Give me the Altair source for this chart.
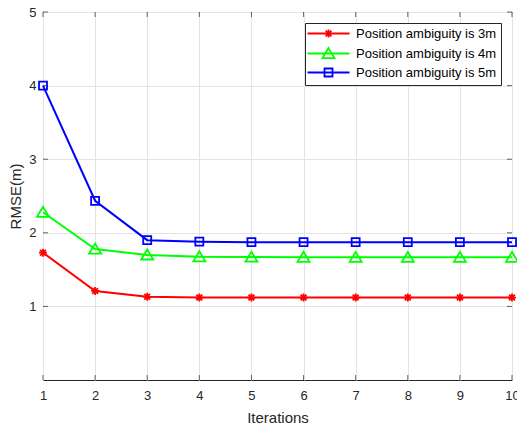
import altair as alt
import pandas as pd

iterations = [1, 2, 3, 4, 5, 6, 7, 8, 9, 10]
series_names = ["Position ambiguity is 3m", "Position ambiguity is 4m", "Position ambiguity is 5m"]
rmse_3m = [1.73, 1.21, 1.13, 1.12, 1.12, 1.12, 1.12, 1.12, 1.12, 1.12]
rmse_4m = [2.28, 1.78, 1.70, 1.675, 1.67, 1.668, 1.667, 1.667, 1.667, 1.667]
rmse_5m = [4.00, 2.435, 1.90, 1.88, 1.873, 1.872, 1.872, 1.872, 1.872, 1.872]
x_tick_values = [1, 2, 3, 4, 5, 6, 7, 8, 9, 10]
y_tick_values = [1, 2, 3, 4, 5]

colors = ["#FF0000", "#00FF00", "#0000FF"]
FONT = "Liberation Sans"
TXT = "#262626"

rows = []
for name, vals in zip(series_names, [rmse_3m, rmse_4m, rmse_5m]):
    for it, v in zip(iterations, vals):
        rows.append({"Iterations": it, "RMSE": v, "series": name})
df = pd.DataFrame(rows)

# marker paths (unit = 4px at size 64)
star = "M-1,0H1M0,-1V1M-0.72,-0.72L0.72,0.72M-0.72,0.72L0.72,-0.72"
tri = "M0,-1.35L1.5,1.15L-1.5,1.15Z"
sq = "M-1,-1H1V1H-1Z"
line_seg = "M-5.25,0H5.25"

x_scale = alt.Scale(domain=[1, 10], nice=False)
y_scale = alt.Scale(domain=[0, 5], nice=False)
color_scale = alt.Scale(domain=series_names, range=colors)

x_enc = alt.X("Iterations:Q", scale=x_scale,
              axis=alt.Axis(values=x_tick_values, title="Iterations", format="d"))
y_enc = alt.Y("RMSE:Q", scale=y_scale,
              axis=alt.Axis(values=y_tick_values, title="RMSE(m)", format="d"))

lines = alt.Chart(df).mark_line(strokeWidth=2).encode(
    x=x_enc, y=y_enc,
    color=alt.Color("series:N", scale=color_scale, legend=None),
)

points = alt.Chart(df).mark_point(filled=False, strokeWidth=1.8, size=64, opacity=1).encode(
    x="Iterations:Q", y="RMSE:Q",
    color=alt.Color("series:N", scale=color_scale, legend=None),
    shape=alt.Shape("series:N", scale=alt.Scale(domain=series_names, range=[star, tri, sq]), legend=None),
)

legend_layer = alt.Chart(df).mark_point(filled=False, strokeWidth=1.8, size=64, opacity=1).encode(
    x="Iterations:Q", y="RMSE:Q",
    color=alt.Color("series:N", scale=color_scale, legend=alt.Legend(title=None)),
    shape=alt.Shape("series:N",
                    scale=alt.Scale(domain=series_names,
                                    range=[line_seg + star, line_seg + tri, line_seg + sq]),
                    legend=alt.Legend(title=None)),
).transform_filter("false")

xt = pd.DataFrame({"v": x_tick_values})
yt = pd.DataFrame({"v": y_tick_values})
tick_color = TXT
ticks_bottom = alt.Chart(xt).mark_tick(orient="vertical", size=5, thickness=1, yOffset=-2.5, color=tick_color).encode(
    x=alt.X("v:Q", scale=x_scale), y=alt.datum(0, scale=y_scale))
ticks_top = alt.Chart(xt).mark_tick(orient="vertical", size=5, thickness=1, yOffset=2.5, color=tick_color).encode(
    x=alt.X("v:Q", scale=x_scale), y=alt.datum(5, scale=y_scale))
ticks_left = alt.Chart(yt).mark_tick(orient="horizontal", size=5, thickness=1, xOffset=2.5, color=tick_color).encode(
    y=alt.Y("v:Q", scale=y_scale), x=alt.datum(1, scale=x_scale))
ticks_right = alt.Chart(yt).mark_tick(orient="horizontal", size=5, thickness=1, xOffset=-2.5, color=tick_color).encode(
    y=alt.Y("v:Q", scale=y_scale), x=alt.datum(10, scale=x_scale))

chart = alt.layer(
    lines, ticks_bottom, ticks_top, ticks_left, ticks_right, points, legend_layer
).resolve_scale(shape="independent", color="independent").properties(
    width=469, height=368,
    autosize=alt.AutoSizeParams(type="none"),
    padding={"left": 43, "top": 12, "right": 5, "bottom": 46},
    background="white",
).configure_view(
    stroke=TXT, strokeWidth=1
).configure_axis(
    domain=False, ticks=False, grid=True, gridColor="#e3e3e3", gridWidth=1,
    labelFont=FONT, labelFontSize=13, labelColor=TXT, labelFlush=False, labelOverlap=False,
    titleFont=FONT, titleFontSize=15, titleFontWeight="normal", titleColor=TXT,
).configure_axisX(
    labelPadding=9, titlePadding=8,
).configure_axisY(
    labelPadding=7, titlePadding=5,
).configure_legend(
    orient="top-right", offset=11, strokeColor=TXT, fillColor="white",
    padding=4, rowPadding=2, labelFont=FONT, labelFontSize=13, labelColor="#000000",
    symbolSize=64, symbolStrokeWidth=1.8, symbolOffset=13, labelOffset=21,
    cornerRadius=0,
)

chart.save("out.html", embed_options={"renderer": "svg", "actions": False})
